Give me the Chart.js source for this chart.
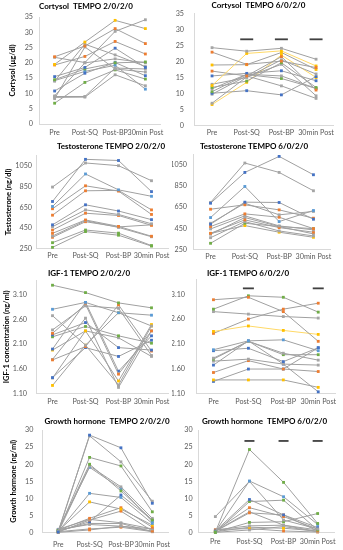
<!DOCTYPE html>
<html><head><meta charset="utf-8">
<script src="https://cdn.jsdelivr.net/npm/chart.js@4"></script>
<style>
html,body{margin:0;padding:0;background:#fff;}
#wrap{position:relative;width:343px;height:550px;overflow:hidden;background:#fff}
</style></head><body>
<div id="wrap"></div>
<script>
const categories = ["Pre", "Post-SQ", "Post-BP", "30min Post"];

const cortisolTicks = [0, 5, 10, 15, 20, 25, 30, 35];
const testosteroneTicks = [250, 450, 650, 850, 1050];
const igfTicks = [1.10, 1.60, 2.10, 2.60, 3.10];
const ghTicks = [0, 5, 10, 15, 20, 25, 30];

const cortisol2020 = [
  [22, 25.5, 31.2, 26.3],
  [21.8, 20.1, 30.3, 34.1],
  [19.5, 26.8, 33.9, 31.2],
  [19.3, 22.1, 27, 22.9],
  [15.5, 18.5, 24.8, 18.5],
  [14.5, 18, 20, 20.3],
  [14, 26.1, 22.6, 18.8],
  [10.8, 16.6, 20.1, 15.8],
  [9.2, 20, 21.3, 20],
  [9, 9, 18.3, 18],
  [8.7, 8.8, 16.1, 12.5],
  [8.3, 25.2, 18, 17],
  [6.8, 13.6, 17.7, 14.7],
  [14.2, 17.2, 19.2, 11.4]
];
const cortisol2020Marks = "okyobgkbkkkkgl";

const cortisol6020 = [
  [24.3, 23.2, 24.1, 20.7],
  [22.9, 19.1, 20.1, 18.1],
  [12.5, 22.5, 23.3, 18.6],
  [18.9, 19, 22.8, 17.5],
  [17, 15.5, 21.5, 11.1],
  [15.5, 16.3, 17.1, 14],
  [12.9, 15, 20.5, 16.1],
  [11.9, 13.9, 19.6, 11.9],
  [11.5, 16, 15.5, 11.6],
  [10.6, 15.9, 14.7, 11.6],
  [10.1, 10.9, 9.6, 15.3],
  [9.8, 15.5, 12.4, 8.5],
  [7, 15.2, 19.1, 9.3],
  [6.6, 13.5, 22, 15]
];
const cortisol6020Marks = "koyyobkgkgbkky";
const cortisol6020Lines = "kkykkkkkkkkkky";
const cortisol6020Sig = [null, 26.9, 26.9, 26.9];

const testosterone2020 = [
  [705, 1111, 1100, 800],
  [844, 1076, 1050, 905],
  [657, 970, 817, 755],
  [635, 856, 805, 580],
  [573, 808, 812, 624],
  [480, 673, 613, 530],
  [462, 624, 580, 490],
  [430, 592, 570, 475],
  [398, 527, 465, 370],
  [372, 520, 455, 365],
  [360, 510, 460, 480],
  [308, 430, 400, 280],
  [263, 415, 380, 275]
];
const testosterone2020Marks = "bkloobkookogg";

const testosterone6020 = [
  [687, 979, 1131, 957],
  [694, 1068, 979, 805],
  [551, 846, 513, 618],
  [488, 697, 694, 535],
  [630, 672, 624, 545],
  [497, 687, 577, 609],
  [466, 586, 554, 446],
  [443, 567, 472, 434],
  [402, 529, 456, 412],
  [393, 551, 466, 396],
  [360, 513, 424, 377],
  [307, 497, 466, 446],
  [400, 475, 412, 364]
];
const testosterone6020Marks = "bklbokokokkgy";

const igf2020 = [
  [3.30, 3.15, 2.94, 2.84],
  [2.81, 2.95, 2.74, 2.69],
  [2.68, 2.08, 1.27, 2.47],
  [2.39, 2.88, 2.83, 1.87],
  [2.32, 2.91, 1.49, 2.37],
  [2.29, 2.54, 2.03, 1.98],
  [2.25, 2.46, 2.27, 2.12],
  [2.00, 2.95, 1.55, 2.27],
  [1.98, 2.37, 1.35, 2.50],
  [1.78, 2.05, 2.90, 1.96],
  [1.79, 2.63, 1.22, 2.37],
  [1.42, 2.03, 1.85, 2.18],
  [1.41, 2.37, 2.23, 1.85],
  [1.26, 2.08, 2.74, 2.47]
];
const igf2020Marks = "glkkobgbyokbky";

const igf6020 = [
  [2.99, 3.04, 2.75, 2.15],
  [2.80, 3.07, 3.04, 2.74],
  [2.75, 2.70, 2.65, 2.62],
  [2.35, 2.46, 2.37, 2.29],
  [2.31, 2.60, 2.80, 2.92],
  [1.98, 2.16, 2.18, 1.96],
  [1.96, 2.01, 1.74, 2.02],
  [1.81, 2.15, 1.91, 1.77],
  [1.79, 2.15, 1.88, 1.88],
  [1.75, 1.79, 1.69, 1.67],
  [1.67, 2.16, 1.69, 1.13],
  [1.52, 1.76, 1.59, 1.54],
  [1.37, 1.37, 1.37, 1.22],
  [1.34, 1.59, 1.59, 2.02]
];
const igf6020Marks = "ogkyolbkgkboyb";
const igf6020Lines = "kkkykkkkkkkkkk";
const igf6020Sig = [null, 3.22, null, 3.22];

const gh2020 = [
  [0.2, 28.5, 24.8, 8.6],
  [0.4, 28.3, 20.7, 9.2],
  [0.3, 22, 19.5, 6.1],
  [0.6, 20, 12.2, 3.7],
  [0.1, 19.5, 13.4, 4.2],
  [0.8, 19.1, 12.9, 3.2],
  [0.3, 11.5, 10.3, 2.7],
  [0.5, 9, 6.9, 2.2],
  [0.7, 4.2, 7.3, 1.6],
  [1.0, 3.9, 2.9, 1.1],
  [0.2, 3.7, 6.3, 0.5],
  [0.4, 3.2, 11, 3.7],
  [0.6, 2.7, 2.7, 0.3],
  [0.9, 2.4, 1.9, 0.5],
  [0.3, 1.1, 1.6, 0.3],
  [0.1, 0.8, 1.9, 1.1]
];
const gh2020Marks = "bkggkllyokobkkoo";

const gh6020 = [
  [0.2, 24.3, 14.7, 2.7],
  [0.3, 15.1, 10.5, 2.4],
  [4.7, 15, 3.7, 1.1],
  [0.5, 9.7, 5.2, 1.5],
  [0.1, 9.1, 9.5, 0.8],
  [0.6, 7.3, 4.7, 1.1],
  [0.4, 5.8, 5.2, 0.5],
  [0.2, 3.0, 3.2, 5.6],
  [0.8, 2.0, 2.2, 0.3],
  [0.3, 1.6, 1.3, 0.5],
  [0.1, 0.8, 1.8, 0.3],
  [0.9, 1.2, 0.5, 0.2],
  [0.5, 6.1, 2.2, 0.8]
];
const gh6020Marks = "glkbgoogkykok";
const gh6020Sig = [null, 26.8, 26.8, 26.8];

const COLORS = {b:'#4472C4', l:'#5B9BD5', o:'#ED7D31', g:'#70AD47', y:'#FFC000', k:'#A5A5A5'};
const LINE = {k:'#A0A0A0', y:'#FFD966'};
const FONT = 'Lato';
Chart.defaults.font.family = FONT;

const panelTitle = {
  id: 'panelTitle',
  afterDraw(chart, args, opts) {
    const ctx = chart.ctx;
    ctx.save();
    ctx.font = 'bold 8px ' + FONT;
    ctx.fillStyle = '#000';
    ctx.textAlign = 'center';
    ctx.textBaseline = 'middle';
    ctx.fillText(opts.text, opts.x, opts.y);
    ctx.restore();
  }
};

function build(cfg) {
  const P = cfg.pos;
  const cv = document.createElement('canvas');
  cv.width = P.w; cv.height = P.h;
  cv.style.cssText = 'position:absolute;left:' + P.x0 + 'px;top:' + P.y0 + 'px;width:' + P.w + 'px;height:' + P.h + 'px';
  document.getElementById('wrap').appendChild(cv);
  const datasets = cfg.series.map((d, i) => ({
    data: d,
    borderColor: LINE[cfg.lines ? cfg.lines[i] : 'k'],
    borderWidth: 1,
    pointStyle: 'rect',
    pointRadius: 2,
    pointBackgroundColor: COLORS[cfg.marks[i]],
    pointBorderWidth: 0,
    clip: false,
    tension: 0
  }));
  if (cfg.sig) {
    datasets.push({data: cfg.sig, showLine: false, pointStyle: 'line', pointRadius: cfg.sigR,
      pointBorderColor: '#404040', pointBorderWidth: 1.8, borderColor: '#404040', clip: false});
  }
  const axisLH = 7.5 * 1.2;
  new Chart(cv, {
    type: 'line',
    data: {labels: categories, datasets},
    options: {
      responsive: false, animation: false, events: [],
      layout: {padding: {left: 0, top: P.top, right: P.w - P.right, bottom: 0}},
      plugins: {legend: {display: false}, tooltip: {enabled: false},
        panelTitle: {text: cfg.title, x: P.tx, y: P.ty}},
      scales: {
        x: {
          offset: true,
          grid: {display: false, drawTicks: false},
          border: {color: '#D9D9D9', width: 1},
          ticks: {color: '#595959', font: {size: 7.2}, padding: P.xPad, maxRotation: 0, autoSkip: false},
          afterFit(s) { s.height = P.h - P.bottom; s.paddingLeft = 0; s.paddingRight = 0; }
        },
        y: {
          min: cfg.min, max: cfg.max,
          grid: {display: false, drawTicks: false},
          border: {color: '#D9D9D9', width: 1},
          ticks: {color: '#595959', font: {size: 7.2}, padding: P.yPad, autoSkip: false, callback: v => cfg.fmt(v)},
          afterBuildTicks(s) { s.ticks = cfg.ticks.map(v => ({value: v})); },
          afterFit(s) { s.width = P.left; s.paddingTop = 0; s.paddingBottom = 0; },
          title: cfg.axisTitle ? {display: true, text: cfg.axisTitle, color: '#000',
            font: {size: 7.5, weight: 'bold'}, padding: {top: P.ax - axisLH / 2, bottom: 0}} : {display: false}
        }
      }
    },
    plugins: [panelTitle]
  });
}

const fInt = v => String(v);
const f2 = v => Number(v).toFixed(2);

build({pos: {x0: 0, y0: 0, w: 172, h: 140, left: 39.5, right: 160.5, top: 17, bottom: 124, yPad: 6.5, xPad: 4.5, tx: 86, ty: 6.5, ax: 13},
  series: cortisol2020, marks: cortisol2020Marks, ticks: cortisolTicks, min: 0, max: 35, fmt: fInt,
  title: 'Cortysol  TEMPO 2/0/2/0', axisTitle: 'Cortysol (µg/dl)'});
build({pos: {x0: 172, y0: 0, w: 171, h: 140, left: 22.7, right: 161.4, top: 13.3, bottom: 125.7, yPad: 10.7, xPad: 2.8, tx: 86.5, ty: 5.7},
  series: cortisol6020, marks: cortisol6020Marks, lines: cortisol6020Lines, ticks: cortisolTicks, min: 0, max: 35, fmt: fInt,
  title: 'Cortysol  TEMPO 6/0/2/0', sig: cortisol6020Sig, sigR: 6.5});
build({pos: {x0: 0, y0: 140, w: 172, h: 122, left: 36, right: 170, top: 15.3, bottom: 108.7, yPad: 4, xPad: 2.5, tx: 111, ty: 6.7, ax: 8.3},
  series: testosterone2020, marks: testosterone2020Marks, ticks: testosteroneTicks, min: 250, max: 1150, fmt: fInt,
  title: 'Testosterone TEMPO 2/0/2/0', axisTitle: 'Testosterone (ng/dl)'});
build({pos: {x0: 172, y0: 140, w: 171, h: 122, left: 21.4, right: 158.6, top: 14.4, bottom: 109.3, yPad: 6.4, xPad: 2.9, tx: 82, ty: 6.7},
  series: testosterone6020, marks: testosterone6020Marks, ticks: testosteroneTicks, min: 250, max: 1150, fmt: fInt,
  title: 'Testosterone TEMPO 6/0/2/0'});
build({pos: {x0: 0, y0: 262, w: 172, h: 146, left: 36, right: 170, top: 18.3, bottom: 131.3, yPad: 9, xPad: 3.9, tx: 89, ty: 11.3, ax: 6.7},
  series: igf2020, marks: igf2020Marks, ticks: igfTicks, min: 1.10, max: 3.40, fmt: f2,
  title: 'IGF-1 TEMPO 2/0/2/0', axisTitle: 'IGF-1 concentration (ng/ml)'});
build({pos: {x0: 172, y0: 262, w: 171, h: 146, left: 24, right: 164, top: 17.45, bottom: 131.3, yPad: 11, xPad: 3.9, tx: 76, ty: 11.3},
  series: igf6020, marks: igf6020Marks, lines: igf6020Lines, ticks: igfTicks, min: 1.10, max: 3.40, fmt: f2,
  title: 'IGF-1 TEMPO 6/0/2/0', sig: igf6020Sig, sigR: 5.5});
build({pos: {x0: 0, y0: 408, w: 172, h: 142, left: 42.5, right: 169.2, top: 22, bottom: 124.7, yPad: 9.2, xPad: 7.8, tx: 107, ty: 13.7, ax: 13.3},
  series: gh2020, marks: gh2020Marks, ticks: ghTicks, min: 0, max: 30, fmt: fInt,
  title: 'Growth hormone  TEMPO 2/0/2/0', axisTitle: 'Growth hormone (ng/ml)'});
build({pos: {x0: 172, y0: 408, w: 171, h: 142, left: 26.3, right: 162.7, top: 22, bottom: 124.7, yPad: 5.6, xPad: 4.5, tx: 92.5, ty: 13.7},
  series: gh6020, marks: gh6020Marks, ticks: ghTicks, min: 0, max: 30, fmt: fInt,
  title: 'Growth hormone  TEMPO 6/0/2/0', sig: gh6020Sig, sigR: 5});
</script>
</body></html>
